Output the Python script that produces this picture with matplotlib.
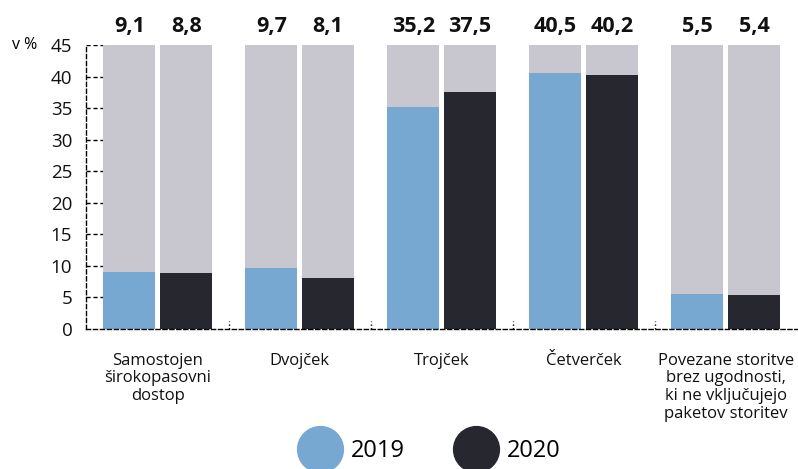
import matplotlib.pyplot as plt
from matplotlib.lines import Line2D
import numpy as np

plt.rcParams['font.family'] = ['Open Sans', 'DejaVu Sans']

# podatki
kategorije = ["Samostojen\nširokopasovni\ndostop", "Dvojček", "Trojček", "Četverček",
              "Povezane storitve\nbrez ugodnosti,\nki ne vključujejo\npaketov storitev"]
leta = ["2019", "2020"]
vrednosti_2019 = [9.1, 9.7, 35.2, 40.5, 5.5]
vrednosti_2020 = [8.8, 8.1, 37.5, 40.2, 5.4]
y_ticks = [0, 5, 10, 15, 20, 25, 30, 35, 40, 45]

barve = ["#77a8d1", "#272730"]
siva = "#c8c7d0"

fig = plt.figure(figsize=(7.98, 4.69), dpi=100)
ax = fig.add_axes([0.108, 0.2985, 0.892, 0.6055])

x = np.arange(len(kategorije))
w = 0.366
off = 0.2
ymax = y_ticks[-1]

for serija, barva, d in zip([vrednosti_2019, vrednosti_2020], barve, [-off, off]):
    ax.bar(x + d, [ymax] * len(x), width=w, color=siva, zorder=1)
    ax.bar(x + d, serija, width=w, color=barva, zorder=2)
    for xi, v in zip(x + d, serija):
        ax.annotate(f"{v:.1f}".replace(".", ","), (xi, ymax), xytext=(0, 6),
                    textcoords="offset points", ha="center", va="bottom",
                    fontsize=15.5, fontweight="bold", color="#111111")

ax.set_xlim(-0.504, 4.51)
ax.set_ylim(0, ymax)
ax.set_yticks(y_ticks)
ax.tick_params(axis="y", length=0, pad=10, labelsize=13.5, colors="#111111")
ax.set_xticks(x)
ax.set_xticklabels(kategorije, fontsize=12, linespacing=1.15)
ax.tick_params(axis="x", length=0, pad=17, colors="#111111")

for s in ["top", "right"]:
    ax.spines[s].set_visible(False)
for s in ["left", "bottom"]:
    ax.spines[s].set_linestyle((0, (3, 2)))
    ax.spines[s].set_linewidth(1)

# črtkane oznake na osi y
ax.hlines(y_ticks[1:], -0.504, -off - w / 2, colors="black", linestyles=(0, (3, 2)), lw=1, zorder=0)
# ločila med skupinami
ax.vlines(x[:-1] + 0.5, 0, 1.2, colors="black", linestyles=":", lw=1)

ax.text(-0.104, 1.0, "v %", transform=ax.transAxes, ha="left", va="center", fontsize=11.5)

handles = [Line2D([], [], marker="o", ls="", markersize=33, markerfacecolor=c, markeredgecolor=c)
           for c in barve]
fig.legend(handles, leta, loc="center", bbox_to_anchor=(0.537, 0.038), ncol=2, frameon=False,
           fontsize=17, handletextpad=0.3, columnspacing=2.0, borderaxespad=0)

fig.savefig("out.png", dpi=100)
